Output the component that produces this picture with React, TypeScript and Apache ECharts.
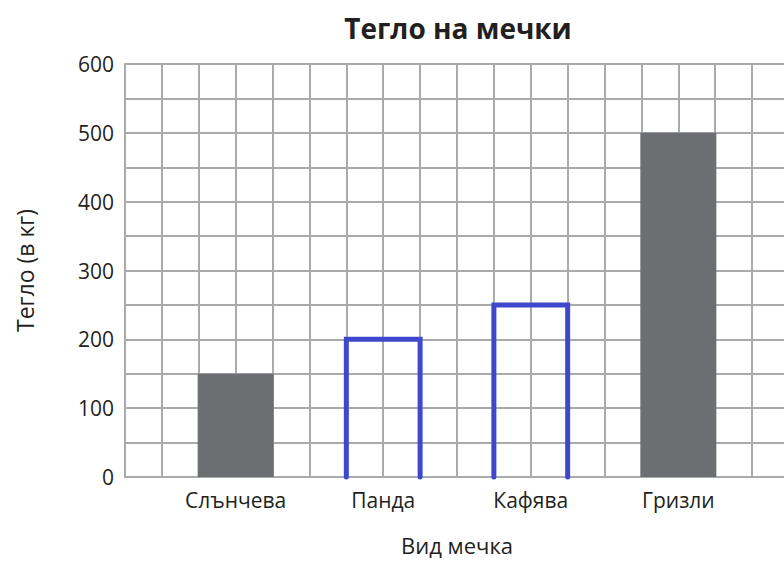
import React, { useEffect, useRef } from "react";
import * as echarts from "echarts";

const title = "Тегло на мечки";
const xAxisTitle = "Вид мечка";
const yAxisTitle = "Тегло (в кг)";
const categories = ["Слънчева", "Панда", "Кафява", "Гризли"];
const weights = [150, 200, 250, 500];
const outlinedCategories = ["Панда", "Кафява"];
const yTicks = [0, 100, 200, 300, 400, 500, 600];

// layout in grid-cell units: each category sits 4 cells apart, starting at cell 3
const slotOf = (i: number) => 3 + 4 * i;

const FONT = "'Open Sans', 'Noto Sans', sans-serif";
const TEXT = "#231f20";
const GRID = "#a9aaac";
const BLUE = "#3f48cc";
const GRAY = "#6d6e71";

export default function App() {
  const ref = useRef<HTMLDivElement>(null);
  useEffect(() => {
    if (!ref.current) return;
    const chart = echarts.init(ref.current, undefined, { renderer: "svg" });
    const filled: any[] = [];
    const outlined: any[] = [];
    categories.forEach((c, i) => {
      const item = [slotOf(i), weights[i]];
      if (outlinedCategories.includes(c)) outlined.push(item);
      else filled.push(item);
    });
    chart.setOption({
      animation: false,
      title: {
        text: title,
        left: 453,
        textAlign: "center",
        top: 9,
        textStyle: { fontFamily: FONT, fontWeight: "bold", fontSize: 28, color: TEXT },
      },
      grid: { left: 125, right: -5, top: 64, bottom: 84, containLabel: false, outerBoundsMode: "none" },
      xAxis: {
        type: "value",
        min: 0,
        max: 18,
        interval: 1,
        name: xAxisTitle,
        nameLocation: "middle",
        nameGap: 57,
        nameTextStyle: { fontFamily: FONT, fontSize: 22, lineHeight: 22, color: TEXT },
        axisLine: { show: true, lineStyle: { color: GRID, width: 2 } },
        axisTick: { show: false },
        splitLine: { show: true, lineStyle: { color: GRID, width: 2 } },
        axisLabel: {
          margin: 12,
          fontFamily: FONT,
          fontSize: 21,
          color: TEXT,
          formatter: (v: number) => {
            const i = (v - 3) / 4;
            return Number.isInteger(i) && i >= 0 && i < categories.length ? categories[i] : "";
          },
        },
      },
      yAxis: {
        type: "value",
        min: 0,
        max: 600,
        interval: 50,
        name: yAxisTitle,
        nameLocation: "middle",
        nameGap: 89,
        nameRotate: 90,
        nameTextStyle: { fontFamily: FONT, fontSize: 23, color: TEXT },
        axisLine: { show: true, lineStyle: { color: GRID, width: 2 } },
        axisTick: { show: false },
        splitLine: { show: true, lineStyle: { color: GRID, width: 2 } },
        axisLabel: {
          margin: 11,
          fontFamily: FONT,
          fontSize: 21,
          color: TEXT,
          formatter: (v: number) => (yTicks.includes(v) ? String(v) : ""),
        },
      },
      series: [
        {
          type: "bar",
          data: filled,
          barWidth: 76,
          itemStyle: { color: GRAY },
          z: 3,
        },
        {
          type: "custom",
          data: outlined,
          z: 4,
          renderItem: (params: any, api: any) => {
            const x = api.value(0);
            const v = api.value(1);
            const pts = [
              api.coord([x - 1, 0]),
              api.coord([x - 1, v]),
              api.coord([x + 1, v]),
              api.coord([x + 1, 0]),
            ];
            return {
              type: "polyline",
              shape: { points: pts },
              style: { stroke: BLUE, lineWidth: 5, fill: null, lineCap: "round", lineJoin: "miter" },
            };
          },
        },
      ],
    });
    return () => chart.dispose();
  }, []);
  return (
    <div
      ref={ref}
      style={{ position: "fixed", left: 0, top: 0, width: 784, height: 561, background: "#fff" }}
    />
  );
}
